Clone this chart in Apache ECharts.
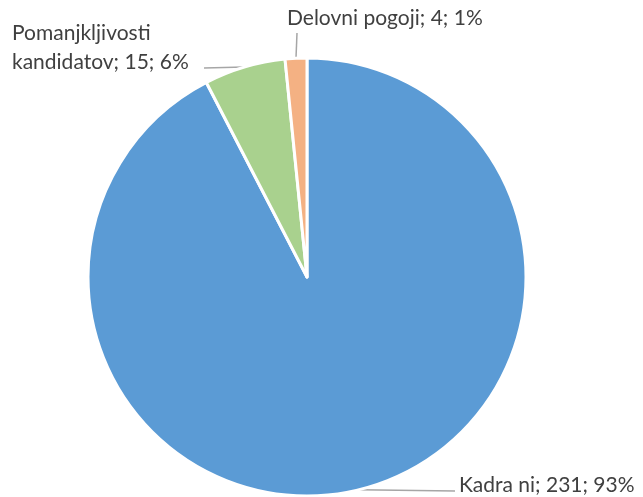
<!DOCTYPE html>
<html>
<head>
<meta charset="utf-8">
<script src="https://cdn.jsdelivr.net/npm/echarts@6/dist/echarts.min.js"></script>
<style>
  html, body { margin: 0; padding: 0; background: #fff; }
  #chart { width: 643px; height: 497px; }
</style>
</head>
<body>
<div id="chart"></div>
<script>
// podatki
var categories = ['Kadra ni', 'Pomanjkljivosti\nkandidatov', 'Delovni pogoji'];
var counts = [231, 15, 4];
var percents = [93, 6, 1];   // kot na sliki
var colors = ['#5B9BD5', '#A9D18E', '#F4B183'];

var myChart = echarts.init(document.getElementById('chart'));

var pieData = categories.map(function (name, i) {
  return { name: name, value: counts[i], itemStyle: { color: colors[i] } };
});

// kje stojijo napisi (x levo, y sredina) in kam gre crta
var labelSpots = [
  { x: 459, y: 485, end: [455, 491] },
  { x: 12, y: 48, end: [204, 68] },
  { x: 287, y: 18, end: [297, 33] }
];

myChart.setOption({
  animation: false,
  series: [
    {
      type: 'pie',
      center: [307, 277],
      radius: 219,
      startAngle: 90,
      clockwise: true,
      data: pieData,
      itemStyle: { borderColor: '#fff', borderWidth: 3 },
      label: {
        show: true,
        position: 'outside',
        fontFamily: 'Lato',
        fontSize: 21,
        lineHeight: 29,
        color: '#404040',
        overflow: 'none',
        width: 400,
        formatter: function (p) {
          return p.name + '; ' + p.value + '; ' + percents[p.dataIndex] + '%';
        }
      },
      labelLine: {
        show: true,
        lineStyle: { color: '#A6A6A6', width: 1.5 }
      },
      labelLayout: function (params) {
        var s = labelSpots[params.dataIndex];
        var start = params.labelLinePoints ? params.labelLinePoints[0] : s.end;
        return {
          x: s.x,
          y: s.y,
          align: 'left',
          verticalAlign: 'middle',
          labelLinePoints: [start, s.end, s.end]
        };
      }
    }
  ]
});
</script>
</body>
</html>
